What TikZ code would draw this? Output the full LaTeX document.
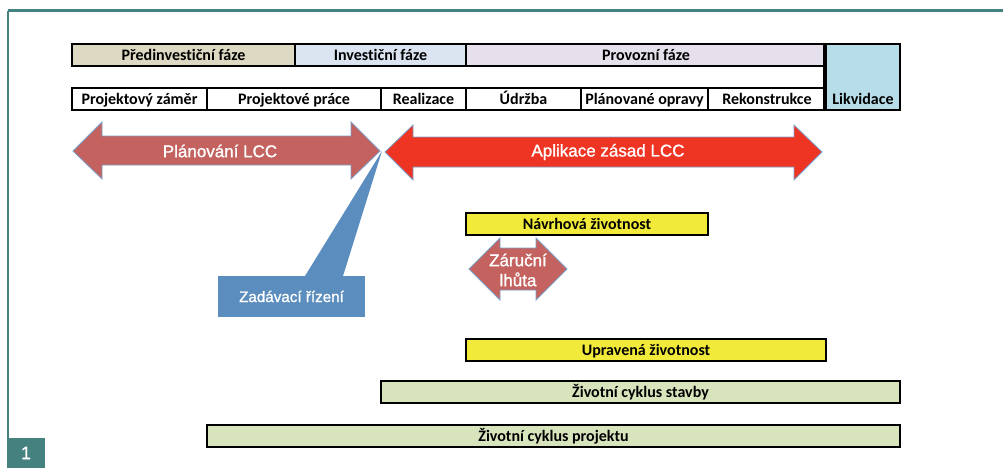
\documentclass[tikz,border=0pt]{standalone}
\usepackage{fontspec}
\setmainfont{Carlito}[Ligatures=NoCommon]
\newfontfamily\helv{Liberation Sans}[FakeBold=1.2]
\definecolor{frameteal}{HTML}{45817E}
\definecolor{tanfill}{HTML}{DDD9C3}
\definecolor{invfill}{HTML}{DBE5F1}
\definecolor{provfill}{HTML}{E5E0EC}
\definecolor{likvfill}{HTML}{B7DDE8}
\definecolor{greenfill}{HTML}{D7E4BC}
\definecolor{yellowfill}{HTML}{F2EA3A}
\definecolor{rosefill}{HTML}{C3625E}
\definecolor{redfill}{HTML}{EE3524}
\definecolor{bluefill}{HTML}{5B8DBE}
\definecolor{arrowedge}{HTML}{7C9FCB}
\tikzset{
  celltext/.style={font=\bfseries\fontsize{16}{18}\selectfont, text=black, text height=10.5pt, text depth=0pt},
  cell/.style={draw=black, line width=2.6pt, inner sep=0pt, celltext},
  bigarrow/.style={draw=arrowedge, line width=0.8pt, line join=miter},
  arrowtext/.style={text=white, font=\helv\fontsize{17}{19}\selectfont, align=center}
}
\begin{document}
\begin{tikzpicture}[x=1pt,y=-1pt]
\useasboundingbox (0,0) rectangle (1003,468);
% frame
\draw[frameteal, line width=3pt] (8,11) -- (1003,11);
\draw[frameteal, line width=2pt] (8,11) -- (8,440);
\node[fill=frameteal, minimum width=38pt, minimum height=30pt, inner sep=0pt, text=white, font=\helv\fontsize{18}{20}\selectfont] (num) at (26,453) {1};
% phase row
\node[cell, fill=tanfill, minimum width=223pt, minimum height=22pt] (predinv) at (183.5,55) {Předinvestiční fáze};
\node[cell, fill=invfill, minimum width=171pt, minimum height=22pt] (inv) at (380.5,55) {Investiční fáze};
\node[cell, fill=provfill, minimum width=360pt, minimum height=22pt] (prov) at (646,55) {Provozní fáze};
\node[cell, fill=likvfill, minimum width=74pt, minimum height=66pt] (likv) at (863,77) {};
\node[celltext, inner sep=0pt] (likvtext) at (863,99) {Likvidace};
% activity row
\node[cell, fill=white, minimum width=135pt, minimum height=22pt] (zamer) at (139.5,99) {Projektový záměr};
\node[cell, fill=white, minimum width=174pt, minimum height=22pt] (prace) at (294,99) {Projektové práce};
\node[cell, fill=white, minimum width=85pt, minimum height=22pt] (real) at (423.5,99) {Realizace};
\node[cell, fill=white, minimum width=115pt, minimum height=22pt] (udrz) at (523.5,99) {Údržba};
\node[cell, fill=white, minimum width=127pt, minimum height=22pt] (oprav) at (644.5,99) {Plánované opravy};
\node[cell, fill=white, minimum width=118pt, minimum height=22pt] (rekon) at (767,99) {Rekonstrukce};
\draw[line width=2.6pt] (likv.north west) -- (likv.south west);
% big arrows
\draw[bigarrow, fill=rosefill] (73,151) -- (102,122) -- (102,136) -- (351,136) -- (351,122) -- (380,151) -- (351,179) -- (351,165) -- (102,165) -- (102,179) -- cycle;
\node[arrowtext] (plan) at (220,151) {Plánování LCC};
\draw[bigarrow, fill=redfill] (385,152) -- (413,125) -- (413,137) -- (794,137) -- (794,125) -- (822,152) -- (794,180) -- (794,167) -- (413,167) -- (413,180) -- cycle;
\node[arrowtext] (apl) at (608,152) {Aplikace zásad LCC};
% callout
\fill[bluefill] (305,276) -- (343,276) -- (382,151) -- cycle;
\node[fill=bluefill, minimum width=147pt, minimum height=41pt, inner sep=0pt, text=white, font=\helv\fontsize{15.2}{17}\selectfont] (zad) at (291.5,296.5) {Zadávací řízení};
% lifetimes
\node[cell, fill=yellowfill, minimum width=242pt, minimum height=22pt] (navrh) at (587,224) {Návrhová životnost};
\draw[bigarrow, fill=rosefill] (469,269) -- (500,238) -- (500,248) -- (536,248) -- (536,238) -- (567,269) -- (536,300) -- (536,290) -- (500,290) -- (500,300) -- cycle;
\node[text=white, font=\helv\fontsize{17}{20}\selectfont, align=center] (zaruka) at (518,270) {Záruční\\lhůta};
\node[cell, fill=yellowfill, minimum width=360pt, minimum height=22pt] (uprav) at (646,350) {Upravená životnost};
\node[cell, fill=greenfill, minimum width=519pt, minimum height=22pt] (stavby) at (640.5,392) {Životní cyklus stavby};
\node[cell, fill=greenfill, minimum width=693pt, minimum height=22pt] (projekt) at (553.5,436) {Životní cyklus projektu};
\end{tikzpicture}
\end{document}
